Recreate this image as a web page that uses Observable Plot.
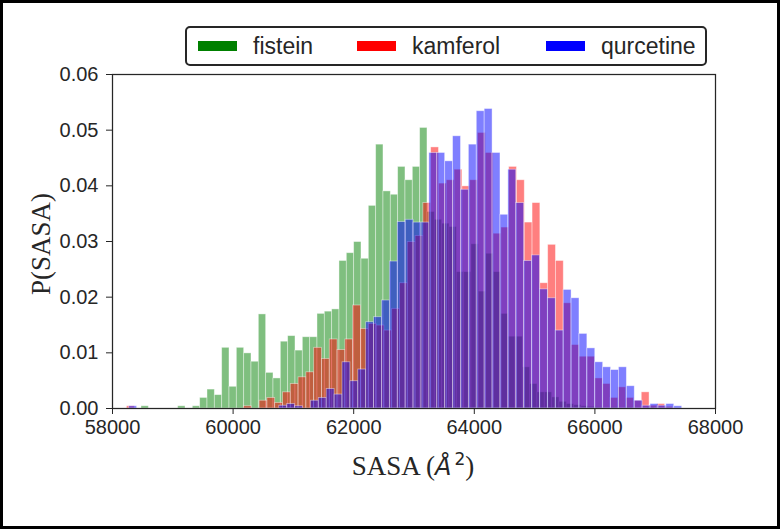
<!DOCTYPE html>
<html>
<head>
<meta charset="utf-8">
<script src="https://cdn.jsdelivr.net/npm/d3@7"></script>
<script src="https://cdn.jsdelivr.net/npm/@observablehq/plot@0.6"></script>
<style>
  html, body { margin: 0; padding: 0; background: white; }
  svg { display: block; }
</style>
</head>
<body>
<div id="chart"></div>
<script>
// ---- data (probability per bin) ----
const seriesNames = ["fistein", "kamferol", "qurcetine"];
const seriesColors = ["green", "red", "blue"];
// histogram bin layout per series (first edge, bin width), 70 bins each
const binStart = [58481, 58240, 58277];
const binWidth = [121.6, 129.35, 131.0];

const fisteinP = [
  0.0004, 0, 0, 0, 0, 0.0004, 0, 0.0004, 0.0019, 0.0034,
  0.0024, 0.0109, 0.0039, 0.0109, 0.0099, 0.0084, 0.0169, 0.0064, 0.0054, 0.0120,
  0.0130, 0.0104, 0.0128, 0.0128, 0.0170, 0.0174, 0.0178, 0.0265, 0.0279, 0.0299,
  0.0269, 0.0364, 0.0474, 0.0390, 0.0384, 0.0434, 0.0410, 0.0434, 0.0504, 0.0353,
  0.0339, 0.0332, 0.0326, 0.0245, 0.0245, 0.0295, 0.0210, 0.0278, 0.0245, 0.0170,
  0.0129, 0.0129, 0.0074, 0.0044, 0.0029, 0.0029, 0.0020, 0.0012, 0.0008, 0.0006,
  0.0004, 0.0003, 0.0002, 0, 0.0002, 0, 0.0002, 0, 0, 0.0002
];
const kamferolP = [
  0.0004, 0, 0, 0, 0, 0, 0, 0, 0, 0,
  0, 0, 0, 0, 0, 0.0004, 0, 0.0014, 0.0019, 0.0010,
  0.0029, 0.0044, 0.0056, 0.0065, 0.0109, 0.0089, 0.0124, 0.0105, 0.0124, 0.0185,
  0.0143, 0.0152, 0.0149, 0.0140, 0.0179, 0.0225, 0.0299, 0.0310, 0.0369, 0.0469,
  0.0404, 0.0410, 0.0429, 0.0399, 0.0410, 0.0495, 0.0459, 0.0314, 0.0325, 0.0434,
  0.0410, 0.0334, 0.0369, 0.0225, 0.0294, 0.0265, 0.0189, 0.0114, 0.0093, 0.0093,
  0.0054, 0.0044, 0.0019, 0.0038, 0.0019, 0.0014, 0.0029, 0.0005, 0.0008, 0.0003
];
const qurcetineP = [
  0.0004, 0, 0, 0, 0, 0, 0, 0, 0, 0,
  0, 0, 0, 0, 0, 0, 0, 0, 0, 0.0005,
  0.0008, 0.0004, 0, 0.0014, 0.0019, 0.0035, 0.0025, 0.0083, 0.0049, 0.0070,
  0.0155, 0.0164, 0.0194, 0.0264, 0.0335, 0.0339, 0.0334, 0.0334, 0.0459, 0.0459,
  0.0444, 0.0489, 0.0393, 0.0474, 0.0534, 0.0538, 0.0459, 0.0348, 0.0429, 0.0369,
  0.0265, 0.0275, 0.0214, 0.0198, 0.0140, 0.0213, 0.0198, 0.0134, 0.0108, 0.0083,
  0.0074, 0.0069, 0.0074, 0.0040, 0.0014, 0.0005, 0.0008, 0.0005, 0.0008, 0.0004
];

const xTicks = [58000, 60000, 62000, 64000, 66000, 68000];
const yTicks = [0, 0.01, 0.02, 0.03, 0.04, 0.05, 0.06];
const xLabel = "SASA (";
const yLabel = "P(SASA)";

// ---- build table ----
const seriesValues = [fisteinP, kamferolP, qurcetineP];
const rows = [];
seriesValues.forEach((vals, s) => {
  vals.forEach((p, i) => {
    if (p > 0) rows.push({
      series: seriesNames[s],
      x1: binStart[s] + i * binWidth[s],
      x2: binStart[s] + (i + 1) * binWidth[s],
      p
    });
  });
});

const ink = "#262626";
const chart = Plot.plot({
  width: 780,
  height: 529,
  marginLeft: 112,
  marginRight: 65,
  marginTop: 74,
  marginBottom: 121,
  style: { fontFamily: "'Liberation Sans', Arial, sans-serif", background: "white" },
  x: { domain: [58000, 68000] },
  y: { domain: [0, 0.06] },
  color: { domain: seriesNames, range: seriesColors },
  marks: [
    Plot.rect(rows, {
      x1: "x1", x2: "x2", y1: 0, y2: "p",
      fill: "series", fillOpacity: 0.5,
      stroke: "white", strokeOpacity: 0.5, strokeWidth: 0.8
    }),
    Plot.frame({ stroke: ink, strokeWidth: 1.25 }),
    Plot.axisX(xTicks, {
      tickFormat: d3.format("d"), tickSize: 6, tickPadding: 5,
      fontSize: 20, color: ink, label: null
    }),
    Plot.axisY(yTicks, {
      tickFormat: d3.format(".2f"), tickSize: 6, tickPadding: 8,
      fontSize: 20, color: ink, label: null
    })
  ]
});

document.getElementById("chart").appendChild(chart);

const svg = d3.select(chart);

// axis titles
const xt = svg.append("text")
  .attr("x", 413).attr("y", 475)
  .attr("text-anchor", "middle")
  .attr("fill", ink)
  .style("font-family", "'Liberation Serif', 'Times New Roman', serif")
  .style("font-size", "27px");
xt.append("tspan").text(xLabel);
xt.append("tspan").text("Å")
  .style("font-family", "'DejaVu Sans', sans-serif")
  .style("font-style", "italic")
  .style("font-size", "24px");
xt.append("tspan").text("2")
  .attr("dy", -10).attr("dx", 3)
  .style("font-family", "'DejaVu Sans', sans-serif")
  .style("font-size", "17px");
xt.append("tspan").text(")").attr("dy", 10);

svg.append("text")
  .attr("transform", "translate(50,244) rotate(-90)")
  .attr("text-anchor", "middle")
  .attr("fill", ink)
  .style("font-family", "'Liberation Serif', 'Times New Roman', serif")
  .style("font-size", "27px")
  .text(yLabel);

// legend
const lg = svg.append("g").attr("text-anchor", "start");
lg.append("rect")
  .attr("x", 186).attr("y", 27).attr("width", 520).attr("height", 38)
  .attr("rx", 4).attr("fill", "white").attr("stroke", ink).attr("stroke-width", 2);
const swX = [198, 357, 546];
const txX = [253, 412, 601];
seriesNames.forEach((name, i) => {
  lg.append("rect")
    .attr("x", swX[i]).attr("y", 41).attr("width", 39).attr("height", 10)
    .attr("fill", seriesColors[i]);
  lg.append("text")
    .attr("x", txX[i]).attr("y", 54)
    .attr("text-anchor", "start")
    .attr("fill", ink)
    .style("font-family", "'Liberation Sans', Arial, sans-serif")
    .style("font-size", "23px")
    .text(name);
});

// outer black frame
svg.append("rect")
  .attr("x", 1.5).attr("y", 1.5).attr("width", 777).attr("height", 526)
  .attr("fill", "none").attr("stroke", "black").attr("stroke-width", 3);
</script>
</body>
</html>
